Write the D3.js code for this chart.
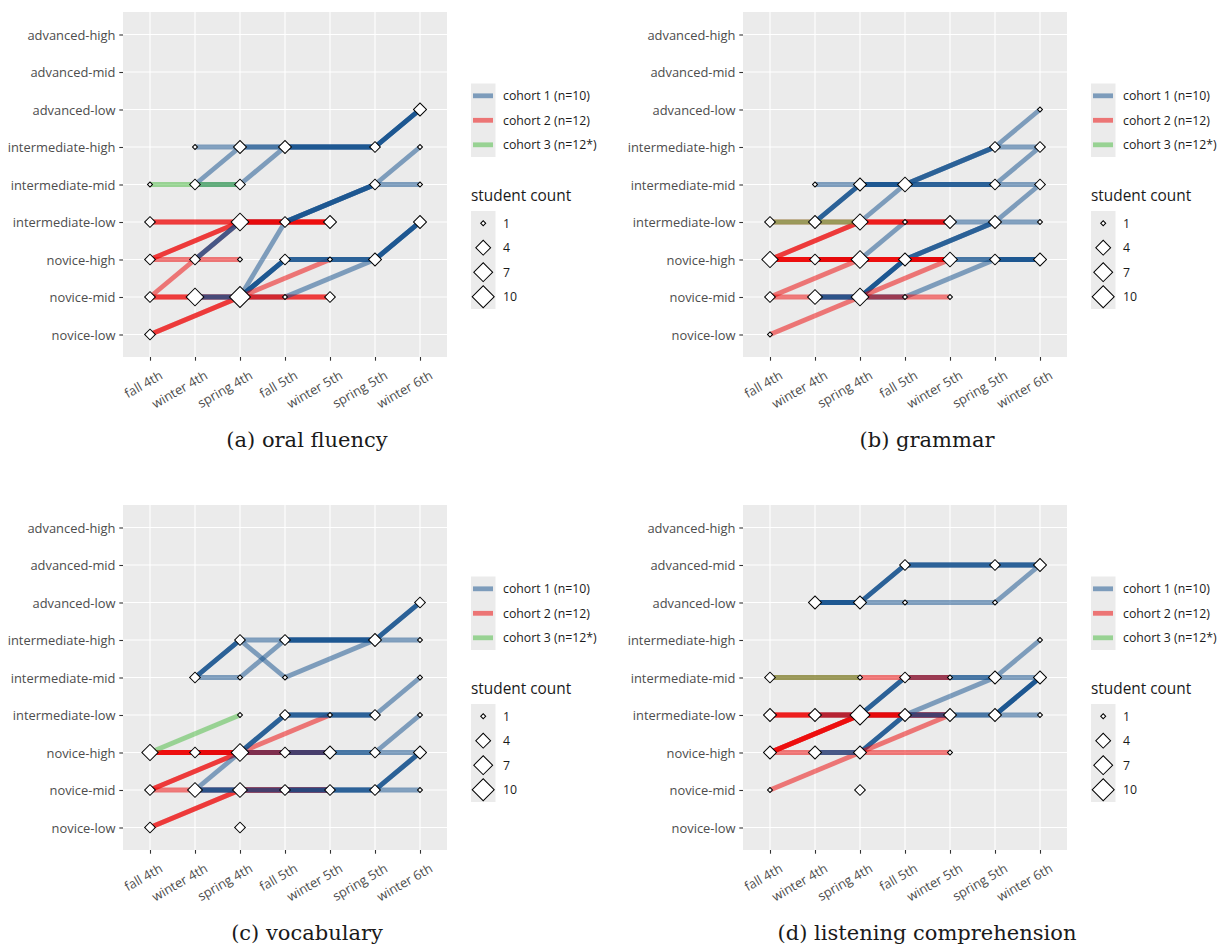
<!DOCTYPE html>
<html>
<head>
<meta charset="utf-8">
<script src="https://cdn.jsdelivr.net/npm/d3@7"></script>
<style>
  html, body { margin: 0; padding: 0; background: #ffffff; }
  svg { display: block; }
</style>
</head>
<body>
<svg id="chart" width="1218" height="948"></svg>
<script>
// ---- categories -------------------------------------------------------
const terms = ["F4", "W4", "S4", "F5", "W5", "S5", "W6"];
const termLabels = ["fall 4th", "winter 4th", "spring 4th", "fall 5th", "winter 5th", "spring 5th", "winter 6th"];
const levels = ["NL", "NM", "NH", "IL", "IM", "IH", "AL", "AM", "AH"];
const levelLabels = ["novice-low", "novice-mid", "novice-high", "intermediate-low", "intermediate-mid",
  "intermediate-high", "advanced-low", "advanced-mid", "advanced-high"];
const cohorts = [1, 2, 3];
const cohortLabels = ["cohort 1 (n=10)", "cohort 2 (n=12)", "cohort 3 (n=12*)"];
const sizeBreaks = [1, 4, 7, 10];
const captions = ["(a) oral fluency", "(b) grammar", "(c) vocabulary", "(d) listening comprehension"];

// ---- transitions: [cohort, from term, from level, to term, to level, students]
// listed in drawing order
const segOral = [
  [2, "F4", "IL", "S4", "IL", 2],
  [2, "F4", "NH", "S4", "IL", 2],
  [2, "F4", "NH", "S4", "NH", 1],
  [2, "F4", "NM", "S4", "IL", 1],
  [2, "F4", "NM", "S4", "NM", 2],
  [2, "F4", "NL", "S4", "NM", 2],
  [1, "W4", "IH", "S4", "IH", 1],
  [1, "W4", "IM", "S4", "IH", 1],
  [1, "W4", "IM", "S4", "IM", 1],
  [1, "W4", "NH", "S4", "IL", 2],
  [1, "W4", "NM", "S4", "NM", 2],
  [3, "F4", "IM", "W4", "IM", 1],
  [3, "W4", "IM", "S4", "IM", 1],
  [1, "S4", "IH", "F5", "IH", 2],
  [1, "S4", "IM", "F5", "IH", 1],
  [1, "S4", "IL", "F5", "IL", 1],
  [1, "S4", "NM", "F5", "IL", 1],
  [1, "S4", "NM", "F5", "NH", 4],
  [1, "S4", "NM", "F5", "NM", 1],
  [2, "S4", "IL", "W5", "IL", 4],
  [2, "S4", "NM", "W5", "NH", 1],
  [2, "S4", "NM", "W5", "NM", 2],
  [1, "F5", "IH", "S5", "IH", 4],
  [1, "F5", "IL", "S5", "IM", 4],
  [1, "F5", "NH", "S5", "NH", 3],
  [1, "F5", "NM", "S5", "NH", 1],
  [1, "S5", "IH", "W6", "AL", 4],
  [1, "S5", "IM", "W6", "IH", 1],
  [1, "S5", "IM", "W6", "IM", 1],
  [1, "S5", "NH", "W6", "IL", 4]
];
const segGrammar = [
  [2, "F4", "IL", "S4", "IL", 1],
  [2, "F4", "NH", "S4", "IL", 2],
  [2, "F4", "NM", "S4", "NH", 1],
  [2, "F4", "NM", "S4", "NM", 1],
  [2, "F4", "NL", "S4", "NM", 1],
  [3, "F4", "IL", "W4", "IL", 1],
  [1, "W4", "IM", "S4", "IM", 1],
  [1, "W4", "IL", "S4", "IM", 3],
  [1, "W4", "NH", "S4", "NH", 1],
  [1, "W4", "NM", "S4", "NM", 3],
  [3, "W4", "IL", "S4", "IL", 1],
  [2, "F4", "NH", "S4", "NH", 4],
  [1, "S4", "IM", "F5", "IM", 4],
  [1, "S4", "IL", "F5", "IM", 1],
  [1, "S4", "NH", "F5", "IL", 1],
  [1, "S4", "NM", "F5", "NH", 4],
  [1, "S4", "NM", "F5", "NM", 2],
  [1, "F5", "IM", "S5", "IH", 3],
  [1, "F5", "IM", "S5", "IM", 3],
  [1, "F5", "IL", "S5", "IL", 1],
  [1, "F5", "NH", "S5", "IL", 3],
  [1, "F5", "NH", "S5", "NH", 2],
  [1, "F5", "NM", "S5", "NH", 1],
  [2, "S4", "IL", "W5", "IL", 3],
  [2, "S4", "NH", "W5", "NH", 4],
  [2, "S4", "NM", "W5", "NH", 1],
  [2, "S4", "NM", "W5", "NM", 1],
  [1, "S5", "IH", "W6", "AL", 1],
  [1, "S5", "IH", "W6", "IH", 1],
  [1, "S5", "IM", "W6", "IH", 1],
  [1, "S5", "IM", "W6", "IM", 1],
  [1, "S5", "IL", "W6", "IM", 1],
  [1, "S5", "IL", "W6", "IL", 1],
  [1, "S5", "NH", "W6", "NH", 4]
];
const segVocab = [
  [2, "F4", "NM", "S4", "NM", 1],
  [2, "F4", "NM", "S4", "NH", 2],
  [2, "F4", "NL", "S4", "NM", 2],
  [1, "W4", "IM", "S4", "IH", 3],
  [1, "W4", "IM", "S4", "IM", 1],
  [1, "W4", "NM", "S4", "NH", 1],
  [1, "W4", "NM", "S4", "NM", 3],
  [1, "W4", "NH", "S4", "NH", 1],
  [2, "F4", "NH", "S4", "NH", 4],
  [3, "F4", "NH", "S4", "IL", 1],
  [2, "S4", "NH", "W5", "IL", 1],
  [2, "S4", "NH", "W5", "NH", 4],
  [2, "S4", "NM", "W5", "NM", 4],
  [1, "S4", "IH", "F5", "IH", 1],
  [1, "S4", "IH", "F5", "IM", 1],
  [1, "S4", "IM", "F5", "IH", 1],
  [1, "S4", "NH", "F5", "IL", 3],
  [1, "S4", "NH", "F5", "NH", 1],
  [1, "S4", "NM", "F5", "NM", 2],
  [1, "F5", "IH", "S5", "IH", 4],
  [1, "F5", "IM", "S5", "IH", 1],
  [1, "F5", "IL", "S5", "IL", 3],
  [1, "F5", "NH", "S5", "NH", 2],
  [1, "F5", "NM", "S5", "NM", 3],
  [1, "S5", "IH", "W6", "AL", 3],
  [1, "S5", "IH", "W6", "IH", 1],
  [1, "S5", "IL", "W6", "IM", 1],
  [1, "S5", "NH", "W6", "IL", 1],
  [1, "S5", "NH", "W6", "NH", 1],
  [1, "S5", "NM", "W6", "NH", 3],
  [1, "S5", "NM", "W6", "NM", 1]
];
const segListen = [
  [2, "F4", "IM", "S4", "IM", 1],
  [3, "F4", "IM", "S4", "IM", 1],
  [2, "F4", "IL", "S4", "IL", 2],
  [2, "F4", "NH", "S4", "IL", 4],
  [2, "F4", "NH", "S4", "NH", 1],
  [2, "F4", "NM", "S4", "NH", 1],
  [1, "W4", "AL", "S4", "AL", 4],
  [1, "W4", "IL", "S4", "IL", 1],
  [2, "F4", "IL", "S4", "IL", 1],
  [1, "W4", "NH", "S4", "NH", 2],
  [1, "S4", "AL", "F5", "AM", 3],
  [1, "S4", "AL", "F5", "AL", 1],
  [1, "S4", "IL", "F5", "IM", 3],
  [1, "S4", "IL", "F5", "IL", 1],
  [1, "S4", "NH", "F5", "IL", 3],
  [1, "F5", "IM", "S5", "IM", 2],
  [2, "S4", "IM", "W5", "IM", 1],
  [2, "S4", "IL", "W5", "IL", 4],
  [2, "S4", "NH", "W5", "IL", 1],
  [2, "S4", "NH", "W5", "NH", 1],
  [1, "F5", "AM", "S5", "AM", 3],
  [1, "F5", "AL", "S5", "AL", 1],
  [1, "F5", "IL", "S5", "IM", 1],
  [1, "F5", "IL", "S5", "IL", 2],
  [1, "S5", "AM", "W6", "AM", 3],
  [1, "S5", "AL", "W6", "AM", 1],
  [1, "S5", "IM", "W6", "IH", 1],
  [1, "S5", "IM", "W6", "IM", 1],
  [1, "S5", "IL", "W6", "IM", 4],
  [1, "S5", "IL", "W6", "IL", 1]
];

// ---- student counts at each term and level: [term, level, students]
const ptsOral = [
  ["F4", "IM", 1], ["F4", "IL", 2], ["F4", "NH", 2], ["F4", "NM", 2], ["F4", "NL", 2],
  ["W4", "IH", 1], ["W4", "IM", 2], ["W4", "NH", 2], ["W4", "NM", 6],
  ["S4", "IH", 3], ["S4", "IM", 2], ["S4", "IL", 6], ["S4", "NH", 1], ["S4", "NM", 9],
  ["F5", "IH", 3], ["F5", "IL", 2], ["F5", "NH", 2], ["F5", "NM", 1],
  ["W5", "IL", 3], ["W5", "NH", 1], ["W5", "NM", 2],
  ["S5", "IH", 2], ["S5", "IM", 2], ["S5", "NH", 3],
  ["W6", "AL", 3], ["W6", "IH", 1], ["W6", "IM", 1], ["W6", "IL", 3]
];
const ptsGrammar = [
  ["F4", "IL", 2], ["F4", "NH", 5], ["F4", "NM", 2], ["F4", "NL", 1],
  ["W4", "IM", 1], ["W4", "IL", 3], ["W4", "NH", 2], ["W4", "NM", 4],
  ["S4", "IM", 3], ["S4", "IL", 5], ["S4", "NH", 6], ["S4", "NM", 6],
  ["F5", "IM", 4], ["F5", "IL", 1], ["F5", "NH", 3], ["F5", "NM", 1],
  ["W5", "IL", 3], ["W5", "NH", 4], ["W5", "NM", 1],
  ["S5", "IH", 2], ["S5", "IM", 2], ["S5", "IL", 3], ["S5", "NH", 2],
  ["W6", "AL", 1], ["W6", "IH", 2], ["W6", "IM", 2], ["W6", "IL", 1], ["W6", "NH", 3]
];
const ptsVocab = [
  ["F4", "NH", 5], ["F4", "NM", 2], ["F4", "NL", 2],
  ["W4", "IM", 2], ["W4", "NH", 2], ["W4", "NM", 4],
  ["S4", "IH", 2], ["S4", "IM", 1], ["S4", "IL", 1], ["S4", "NH", 6], ["S4", "NM", 4], ["S4", "NL", 2],
  ["F5", "IH", 2], ["F5", "IM", 1], ["F5", "IL", 2], ["F5", "NH", 2], ["F5", "NM", 2],
  ["W5", "IL", 1], ["W5", "NH", 3], ["W5", "NM", 2],
  ["S5", "IH", 3], ["S5", "IL", 2], ["S5", "NH", 2], ["S5", "NM", 2],
  ["W6", "AL", 2], ["W6", "IH", 1], ["W6", "IM", 1], ["W6", "IL", 1], ["W6", "NH", 3], ["W6", "NM", 1]
];
const ptsListen = [
  ["F4", "IM", 2], ["F4", "IL", 3], ["F4", "NH", 3], ["F4", "NM", 1],
  ["W4", "AL", 3], ["W4", "IL", 3], ["W4", "NH", 3],
  ["S4", "AL", 3], ["S4", "IM", 1], ["S4", "IL", 8], ["S4", "NH", 3], ["S4", "NM", 2],
  ["F5", "AM", 2], ["F5", "AL", 1], ["F5", "IM", 2], ["F5", "IL", 3],
  ["W5", "IM", 1], ["W5", "IL", 3], ["W5", "NH", 1],
  ["S5", "AM", 2], ["S5", "AL", 1], ["S5", "IM", 3], ["S5", "IL", 3],
  ["W6", "AM", 3], ["W6", "IH", 1], ["W6", "IM", 3], ["W6", "IL", 1]
];

// ---- layout ---------------------------------------------------------------
const svg = d3.select("#chart");
const FONT = "'Open Sans', 'DejaVu Sans', sans-serif";
const AXIS_FS = 12.9;
const plot = { left: 123, right: 447, top: 12, bottom: 357 };

const x = d3.scalePoint().domain(terms).range([plot.left, plot.right]).padding(0.6);
const y = d3.scalePoint().domain(levels).range([plot.bottom, plot.top]).padding(0.6);
const color = d3.scaleOrdinal().domain(cohorts).range(["#104E8B", "#EE0000", "#46B93C"]);
// marker width (px) grows with the square root of the student count above one
const markerWidth = d3.scalePow().exponent(0.5).domain([0, 9]).range([5, 22]);
const diamondWidth = n => markerWidth(n - 1);
const LINE_ALPHA = 0.5;
const LINE_W = 4.8;

// a square turned 45 degrees, given its corner-to-corner width
const diamond = w => d3.symbol().type(d3.symbolSquare).size(w * w / 2)();

const panels = [
  { dx: 0, dy: 0, segs: segOral, pts: ptsOral, caption: captions[0] },
  { dx: 620, dy: 0, segs: segGrammar, pts: ptsGrammar, caption: captions[1] },
  { dx: 0, dy: 493, segs: segVocab, pts: ptsVocab, caption: captions[2] },
  { dx: 620, dy: 493, segs: segListen, pts: ptsListen, caption: captions[3] }
];

panels.forEach(p => {
  const g = svg.append("g").attr("transform", `translate(${p.dx},${p.dy})`);

  g.append("rect")
    .attr("x", plot.left).attr("y", plot.top)
    .attr("width", plot.right - plot.left).attr("height", plot.bottom - plot.top)
    .attr("fill", "#EBEBEB");

  // grid
  g.append("g").selectAll("line").data(terms).join("line")
    .attr("x1", d => x(d)).attr("x2", d => x(d))
    .attr("y1", plot.top).attr("y2", plot.bottom)
    .attr("stroke", "#ffffff").attr("stroke-width", 1.1);
  g.append("g").selectAll("line").data(levels).join("line")
    .attr("x1", plot.left).attr("x2", plot.right)
    .attr("y1", d => y(d)).attr("y2", d => y(d))
    .attr("stroke", "#ffffff").attr("stroke-width", 1.1);

  // axes
  const yAxis = g.append("g").attr("transform", `translate(${plot.left},0)`)
    .call(d3.axisLeft(y).tickSize(3.7).tickPadding(3.8)
      .tickFormat(d => levelLabels[levels.indexOf(d)]));
  yAxis.select(".domain").remove();
  yAxis.selectAll("line").attr("stroke", "#333333").attr("stroke-width", 1.1);
  yAxis.selectAll("text").attr("fill", "#4D4D4D").attr("font-size", AXIS_FS)
    .attr("font-family", FONT).attr("dy", "0.35em");

  const xAxis = g.append("g").attr("transform", `translate(0,${plot.bottom})`)
    .call(d3.axisBottom(x).tickSize(3.7)
      .tickFormat(d => termLabels[terms.indexOf(d)]));
  xAxis.select(".domain").remove();
  xAxis.selectAll("line").attr("stroke", "#333333").attr("stroke-width", 1.1);
  xAxis.selectAll("text")
    .attr("fill", "#4D4D4D").attr("font-size", AXIS_FS).attr("font-family", FONT)
    .attr("y", null).attr("dy", null)
    .attr("text-anchor", "end")
    .attr("transform", "translate(13,21) rotate(-30)");

  // one stroke per student for each transition
  const strokes = p.segs.flatMap(s => d3.range(s[5]).map(() => s));
  g.append("g").selectAll("line").data(strokes).join("line")
    .attr("x1", d => x(d[1])).attr("y1", d => y(d[2]))
    .attr("x2", d => x(d[3])).attr("y2", d => y(d[4]))
    .attr("stroke", d => color(d[0]))
    .attr("stroke-opacity", LINE_ALPHA)
    .attr("stroke-width", LINE_W)
    .attr("stroke-linecap", "butt");

  // student count markers
  g.append("g").selectAll("path").data(p.pts).join("path")
    .attr("d", d => diamond(diamondWidth(d[2])))
    .attr("transform", d => `translate(${x(d[0])},${y(d[1])}) rotate(45)`)
    .attr("fill", "#ffffff").attr("stroke", "#000000").attr("stroke-width", 1);

  // cohort legend
  const lg = g.append("g");
  lg.append("rect").attr("x", 471).attr("y", 83.5).attr("width", 24.5).attr("height", 73.5).attr("fill", "#EBEBEB");
  cohorts.forEach((c, i) => {
    const cy = 95.8 + i * 24.5;
    lg.append("line").attr("x1", 473).attr("x2", 493).attr("y1", cy).attr("y2", cy)
      .attr("stroke", color(c)).attr("stroke-opacity", LINE_ALPHA).attr("stroke-width", LINE_W);
    lg.append("text").attr("x", 503).attr("y", cy).attr("dy", "0.35em")
      .attr("font-family", FONT).attr("font-size", 12.3).attr("fill", "#1A1A1A")
      .text(cohortLabels[i]);
  });

  // size legend
  lg.append("text").attr("x", 471).attr("y", 196).attr("dy", "0.35em")
    .attr("font-family", FONT).attr("font-size", 15.4).attr("fill", "#1A1A1A")
    .text("student count");
  lg.append("rect").attr("x", 471).attr("y", 211).attr("width", 24.5).attr("height", 98).attr("fill", "#EBEBEB");
  sizeBreaks.forEach((n, i) => {
    const cy = 223.2 + i * 24.5;
    lg.append("path").attr("d", diamond(diamondWidth(n)))
      .attr("transform", `translate(483.2,${cy}) rotate(45)`)
      .attr("fill", "#ffffff").attr("stroke", "#000000").attr("stroke-width", 1);
    lg.append("text").attr("x", 503).attr("y", cy).attr("dy", "0.35em")
      .attr("font-family", FONT).attr("font-size", 12.3).attr("fill", "#1A1A1A")
      .text(n);
  });

  // caption
  g.append("text").attr("x", 307).attr("y", 447)
    .attr("text-anchor", "middle")
    .attr("font-family", "'DejaVu Serif', 'Liberation Serif', serif")
    .attr("font-size", 21).attr("fill", "#1A1A1A")
    .text(p.caption);
});
</script>
</body>
</html>
